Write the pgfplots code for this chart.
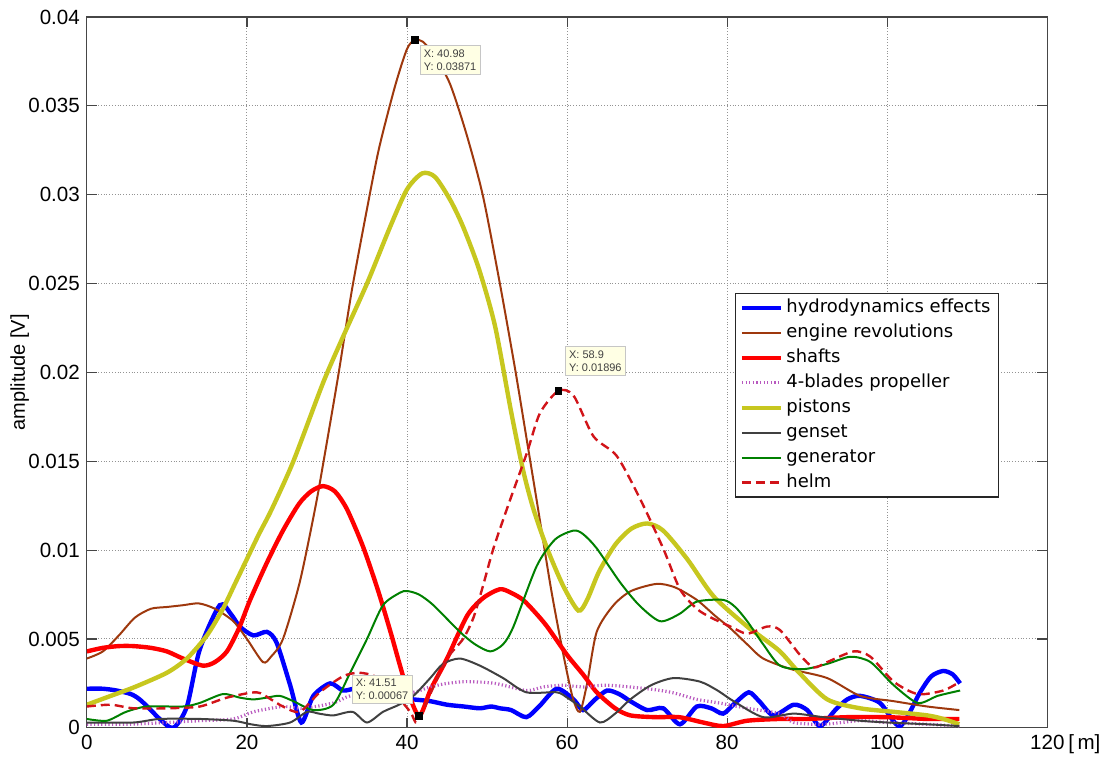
\documentclass[border=0pt]{standalone}
\usepackage{pgfplots}
\pgfplotsset{compat=1.18}
\usepackage{fontspec}
\setmainfont{Liberation Sans}
\newfontfamily\legfont{DejaVu Sans}

\definecolor{mbrown}{rgb}{0.62,0.22,0.05}
\definecolor{mpurple}{rgb}{0.72,0.35,0.75}
\definecolor{myellow}{rgb}{0.78,0.78,0.12}
\definecolor{mgray}{rgb}{0.25,0.25,0.25}
\definecolor{mgreen}{rgb}{0.0,0.5,0.0}
\definecolor{mhelm}{rgb}{0.82,0.08,0.1}
\definecolor{tipbg}{RGB}{255,255,228}

\tikzset{tip/.style={fill=tipbg, draw=gray!45, inner sep=1.8pt, align=left,
        font=\fontsize{5.5}{6.6}\selectfont, text=black!75}}

\begin{document}
\begin{tikzpicture}
\begin{axis}[
    name=ax,
    scale only axis,
    width=481pt, height=356pt,
    xmin=0, xmax=120, ymin=0, ymax=0.04,
    xtick={0,20,40,60,80,100,120},
    ytick={0,0.005,0.01,0.015,0.02,0.025,0.03,0.035,0.04},
    scaled y ticks=false,
    yticklabel style={/pgf/number format/fixed, /pgf/number format/precision=3},
    /pgf/number format/assume math mode=true,
    tick label style={font=\fontsize{10.3}{12}\selectfont},
    grid=major,
    major grid style={densely dotted, gray!85, line width=0.5pt},
    axis line style={gray!55!black, line width=0.6pt},
    tick align=inside,
    major tick length=5pt,
    tick style={gray!55!black, line width=0.6pt},
    ylabel={amplitude [V]},
    ylabel style={at={(axis description cs:-0.07,0.5)}, anchor=center,
        font=\fontsize{10}{12}\selectfont},
    xlabel={[\,m]},
    xlabel style={at={(axis description cs:1,0)}, anchor=north west,
        xshift=7pt, font=\fontsize{10.3}{12}\selectfont},
    legend style={at={(axis description cs:0.675,0.612)}, anchor=north west,
        font=\legfont\fontsize{9}{10}\selectfont, draw=gray!30!black,
        line width=0.6pt, inner xsep=2pt, inner ysep=1pt,
        nodes={inner sep=1.8pt, text height=6.9pt, text depth=2pt}},
    legend cell align=left,
    legend image code/.code={\draw[#1] (0cm,0cm) -- (0.68cm,0cm);},
    every axis plot/.append style={smooth, tension=0.45},
]

% hydrodynamics effects
\addplot[blue, line width=2.2pt] coordinates {
(0,0.0022) (2,0.0022) (3.7,0.0021) (5.5,0.0019) (6.6,0.0016) (8,0.0010)
(9.1,0.0005) (10.8,0.0000) (12.5,0.0012) (14.1,0.0044) (16.6,0.0069)
(18,0.0064) (19.1,0.0057) (20.8,0.0052) (22.5,0.0054) (23.7,0.0048)
(25.4,0.0024) (26.8,0.0003) (28.3,0.0018) (30.4,0.0025) (32,0.0021)
(33.5,0.0022) (35,0.0020) (37,0.0019) (39,0.0017) (40.8,0.0016)
(42.9,0.0015) (45,0.0013) (47.1,0.0012) (49.1,0.0011) (50.5,0.0012)
(51.6,0.0011) (53,0.0010) (54.9,0.0006) (56.5,0.0012) (58.7,0.0022)
(60.8,0.0016) (62,0.0010) (63.5,0.0016) (65,0.0021) (66.5,0.0019)
(67.9,0.0015) (70,0.0010) (72,0.0011) (74.1,0.0002) (76.2,0.0012)
(78,0.0011) (79.5,0.0008) (81,0.0014) (82.7,0.0020) (84,0.0015)
(85.8,0.0007) (88.3,0.0013) (90,0.0010) (91.6,0.0001) (93.5,0.0010)
(95,0.0016) (96.6,0.0018) (99.1,0.0014) (101.6,0.0001) (104.1,0.0020)
(105.5,0.0029) (107,0.0032) (108.2,0.0030) (109.1,0.0025)
};
\addlegendentry{hydrodynamics effects}

% engine revolutions
\addplot[mbrown, line width=1pt] coordinates {
(0,0.0039) (2,0.0043) (4,0.0052) (6,0.0062) (8,0.0067) (10,0.0068)
(12,0.0069) (14,0.0070) (16,0.0067) (18.3,0.0060) (20,0.0050) (22,0.0037)
(23,0.0040) (24.5,0.0050) (26.6,0.0082) (28.5,0.0123) (29.5,0.0148)
(31.4,0.0198) (33.1,0.0246) (35,0.0292) (36.5,0.0326) (38.5,0.0361)
(40,0.0382) (40.98,0.03871) (42,0.0386) (43.5,0.0378) (45.4,0.0362)
(47.5,0.0333) (49.5,0.0299) (51.6,0.0250) (53.5,0.0202)
(55,0.0161) (56.2,0.0128) (58,0.0078) (59.5,0.0042) (60.7,0.0017)
(61.6,0.0009) (62.5,0.0025) (63.7,0.0054) (65.8,0.0069) (68,0.0077)
(71.2,0.0081) (73.5,0.0079) (76.2,0.0072) (78.5,0.0063) (80.4,0.0056)
(82.5,0.0047) (84.5,0.0039) (88,0.0033) (92.5,0.0028) (96.6,0.0018)
(100.8,0.0015) (105,0.0012) (109,0.0010)
};
\addlegendentry{engine revolutions}

% shafts
\addplot[red, line width=2.2pt] coordinates {
(0,0.0043) (2,0.0045) (4,0.0046) (5.8,0.0046) (8,0.0045) (10,0.0043)
(12,0.0039) (14.5,0.0035) (16,0.0037) (17.5,0.0043) (19,0.0056)
(20.4,0.0072) (22.5,0.0093) (24.5,0.0111) (26.5,0.0126) (28,0.0133)
(29.5,0.0136) (31,0.0133) (32.5,0.0123) (34.5,0.0102) (36.4,0.0077)
(38,0.0053) (39,0.0037) (40,0.0022) (41.51,0.00067) (43,0.0022)
(45,0.0039) (47.5,0.0063) (49.5,0.0073) (51.6,0.0078) (53,0.0076)
(54.5,0.0072) (56,0.0065) (57.5,0.0057) (60,0.0041) (62,0.0030)
(63.7,0.0020) (66,0.0011) (67.9,0.0007) (71,0.0006) (74,0.0006)
(77,0.0003) (79.5,0.0001) (82.5,0.0004) (86.6,0.0005) (90,0.0005)
(95,0.0006) (100,0.0006) (105,0.0005) (109,0.0005)
};
\addlegendentry{shafts}

% 4-blades propeller
\addplot[mpurple, line width=1.6pt, dash pattern=on 0.6pt off 1.2pt] coordinates {
(0,0.0002) (5,0.0002) (10,0.0003) (14,0.0004) (18.3,0.0005) (20.8,0.0009)
(24.5,0.0012) (27,0.0011) (30.8,0.0014) (32.9,0.0018) (36,0.0019)
(38.5,0.0020) (40.8,0.0020) (42.9,0.0023) (45,0.0025) (47.5,0.0026)
(51,0.0025) (54.9,0.0021) (57,0.0023) (59.5,0.0024) (62,0.0023)
(65,0.0024) (70,0.0022) (73,0.0020) (76.2,0.0016) (79,0.0014)
(82.5,0.0011) (86.6,0.0008) (88.3,0.0003) (92,0.0002) (96.6,0.0004)
(100,0.0003) (105,0.0002) (109,0.0001)
};
\addlegendentry{4-blades propeller}

% pistons
\addplot[myellow, line width=2.2pt] coordinates {
(0,0.0013) (3,0.0018) (6,0.0023) (10,0.0031) (12.5,0.0039) (15,0.0052)
(17,0.0067) (18.5,0.0081) (20,0.0095) (21.5,0.0109) (23.1,0.0123)
(25.8,0.0150) (29.5,0.0194) (32,0.0220) (35,0.0250) (37.9,0.0282)
(40,0.0303) (41.9,0.0312) (43.5,0.0310) (45.4,0.0297) (47,0.0282)
(49,0.0258) (51,0.0226) (53,0.0178) (54.5,0.0145) (55.8,0.0123)
(57.5,0.0101) (59.5,0.0080) (61.4,0.0066) (62.5,0.0072) (64,0.0088)
(66,0.0103) (68,0.0112) (70,0.0115) (72,0.0111) (75,0.0095)
(78.3,0.0074) (82.5,0.0057) (84,0.0052) (86.6,0.0043) (89,0.0031)
(92.5,0.0016) (96.6,0.0011) (100.8,0.0009) (105,0.0007) (107,0.0005)
(109,0.0002)
};
\addlegendentry{pistons}

% genset
\addplot[mgray, line width=1pt] coordinates {
(0,0.0003) (5.8,0.0003) (9.1,0.0005) (14.1,0.0005) (18.3,0.0004)
(20.5,0.0002) (22.5,0.0001) (25.4,0.0003) (27.5,0.0009) (29,0.0008)
(30.8,0.0007) (33.2,0.0009) (35,0.0003) (37,0.0009) (39,0.0013)
(40.8,0.0018) (42.9,0.0028) (44.5,0.0036) (46.6,0.0039) (49.1,0.0035)
(52,0.0028) (54.9,0.0020) (58.7,0.0020) (60,0.0017) (61.6,0.0012)
(64.1,0.0003) (66,0.0008) (67.9,0.0016) (70.5,0.0024) (73.3,0.0028)
(76.6,0.0026) (78.8,0.0021) (80.8,0.0015) (84.5,0.0006) (88.3,0.0008)
(92,0.0006) (96.6,0.0004) (100,0.0003) (105,0.0002) (109,0.0001)
};
\addlegendentry{genset}

% generator
\addplot[mgreen, line width=1pt] coordinates {
(0,0.0005) (2.5,0.0004) (4.9,0.0009) (7.5,0.0012) (12,0.0012) (14.1,0.0014)
(17,0.0019) (19.1,0.0017) (20.8,0.0016) (22.5,0.0017) (24.1,0.0018)
(25.8,0.0015) (28.3,0.0010) (30.8,0.0013) (32.9,0.0031) (35,0.0050)
(37,0.0069) (39.1,0.0076) (40,0.0077) (41.5,0.0075) (43.3,0.0069)
(46.6,0.0054) (48.5,0.0047) (50.4,0.0043) (52,0.0047) (53.3,0.0057)
(56.2,0.0091) (58.5,0.0106) (60.8,0.0111) (62,0.0109) (63.7,0.0101)
(66.6,0.0082) (69,0.0069) (71.6,0.0060) (74,0.0064) (76.2,0.0071)
(79.5,0.0072) (81,0.0068) (82.5,0.0060) (84.5,0.0047) (86.6,0.0035)
(89.5,0.0033) (92.5,0.0036) (95.4,0.0040) (97.9,0.0037) (100.8,0.0024)
(103.8,0.0014) (106.3,0.0018) (109.1,0.0021)
};
\addlegendentry{generator}

% helm
\addplot[mhelm, line width=1.2pt, dash pattern=on 4.5pt off 2.5pt] coordinates {
(0,0.0012) (3,0.0013) (5.8,0.0011) (10,0.0011) (14.1,0.0012) (17.5,0.0017)
(21.2,0.0020) (23,0.0016) (24.5,0.0012) (26.6,0.0009) (29.1,0.0020)
(32,0.0029) (34,0.0031) (36,0.0029) (38,0.0022) (40.4,0.0009)
(41.3,0.0003) (43,0.0020) (45,0.0039) (47,0.0050) (48.3,0.0062)
(49.5,0.0080) (50.8,0.0101) (52.7,0.0126) (55,0.0155) (56.6,0.0177)
(58.9,0.01896) (60.8,0.0187) (63.3,0.0164) (66.2,0.0153) (69.1,0.0129)
(72,0.0101) (74.1,0.0078) (76.2,0.0067) (78,0.0062) (80.4,0.0057)
(82.5,0.0053) (85,0.0057) (86.6,0.0055) (89.1,0.0041) (90.8,0.0034)
(92.5,0.0037) (95.8,0.0043) (97.9,0.0040) (100.8,0.0026) (103.8,0.0019)
(107,0.0021) (109.1,0.0026)
};
\addlegendentry{helm}

% data tips
\addplot[only marks, mark=square*, mark size=1.7pt, black, forget plot]
    coordinates {(40.98,0.03871) (58.9,0.01896) (41.51,0.00067)};
\node[tip, anchor=north west] at (axis cs:41.6,0.0384) {X: 40.98\\Y: 0.03871};
\node[tip, anchor=north west] at (axis cs:59.75,0.02146) {X: 58.9\\Y: 0.01896};
\node[tip, anchor=north west] at (axis cs:33.1,0.00298) {X: 41.51\\Y: 0.00067};
\end{axis}
\path ([shift={(-43.5pt,-12.5pt)}]ax.south west) rectangle ([shift={(29pt,8.5pt)}]ax.north east);
\end{tikzpicture}
\end{document}
